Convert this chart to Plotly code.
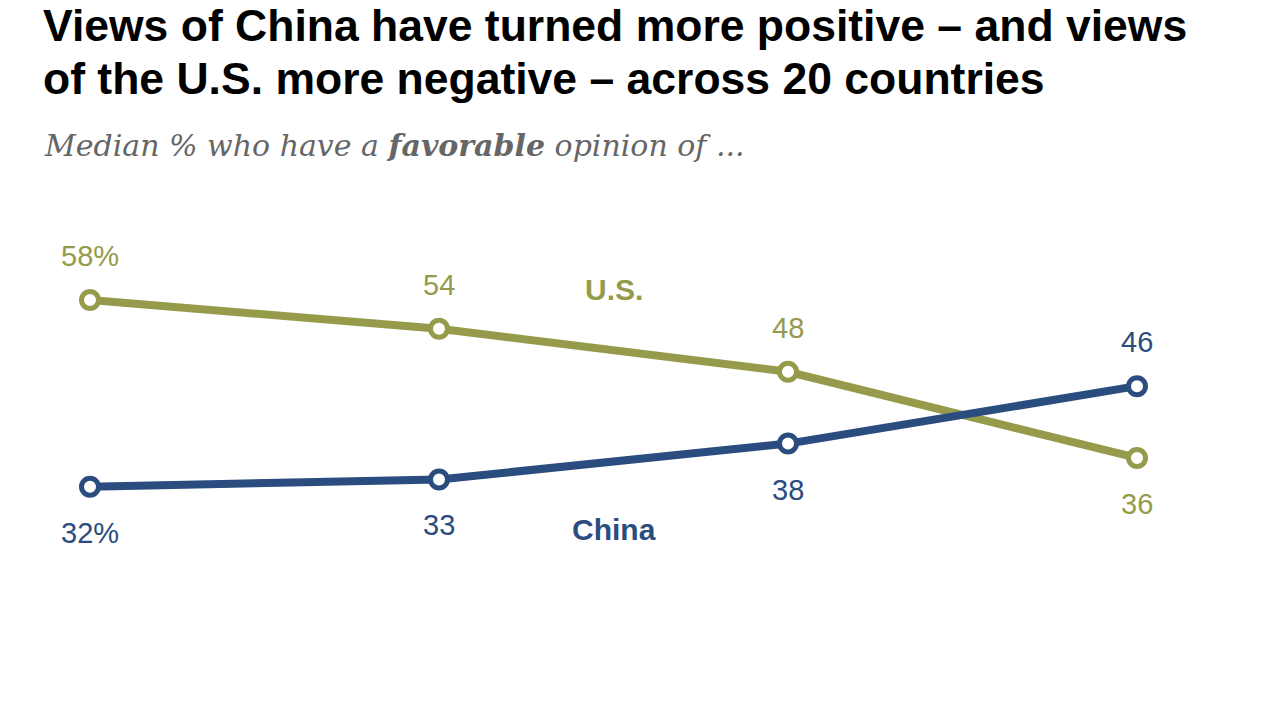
import plotly.graph_objects as go

# survey waves (no axis labels shown in the original)
waves = [0, 1, 2, 3]
us_vals = [58, 54, 48, 36]
china_vals = [32, 33, 38, 46]
us_labels = ['58%', '54', '48', '36']
china_labels = ['32%', '33', '38', '46']

green = '#959b4b'
blue = '#2b4c7e'
sans = 'Liberation Sans, Arial, sans-serif'

fig = go.Figure()
for vals, col in [(us_vals, green), (china_vals, blue)]:
    fig.add_trace(go.Scatter(
        x=waves, y=vals, mode='lines+markers',
        line=dict(color=col, width=8),
        marker=dict(size=17, color='white', line=dict(color=col, width=5)),
        hoverinfo='skip', showlegend=False))

# value labels: above/below depending on which line is on top
for i in range(len(waves)):
    up = us_vals[i] > china_vals[i]
    fig.add_annotation(x=waves[i], y=us_vals[i], text=us_labels[i], showarrow=False,
                       yshift=44 if up else -46, font=dict(family=sans, size=29, color=green))
    fig.add_annotation(x=waves[i], y=china_vals[i], text=china_labels[i], showarrow=False,
                       yshift=-46 if up else 44, font=dict(family=sans, size=29, color=blue))

# series names
fig.add_annotation(x=1.5, y=59.4, text='<b>U.S.</b>', showarrow=False,
                   font=dict(family=sans, size=30, color=green))
fig.add_annotation(x=1.5, y=26, text='<b>China</b>', showarrow=False,
                   font=dict(family=sans, size=30, color=blue))

# title (two lines) and subtitle, placed in paper units above the plot area
title_lines = ['Views of China have turned more positive – and views',
               'of the U.S. more negative – across 20 countries']
for line, ypx in zip(title_lines, [26, 78]):
    fig.add_annotation(xref='paper', yref='paper', x=42 / 1268, y=(650 - ypx) / 450,
                       xanchor='left', yanchor='middle', showarrow=False, borderpad=0,
                       text='<b>' + line + '</b>',
                       font=dict(family=sans, size=44.5, color='black'))

fig.add_annotation(xref='paper', yref='paper', x=42 / 1268, y=(650 - 145) / 450,
                   xanchor='left', yanchor='middle', showarrow=False,
                   text='<i>Median % who have a <b>favorable</b> opinion of ...</i>',
                   font=dict(family='DejaVu Serif, Georgia, serif', size=30, color='#666666'))

fig.update_layout(
    width=1268, height=713,
    margin=dict(l=0, r=0, t=200, b=63),
    paper_bgcolor='white', plot_bgcolor='white',
    xaxis=dict(range=[-90 / 349, 3 + 131 / 349], visible=False),
    yaxis=dict(range=[9.25, 71.93], visible=False),
)

fig.write_html('out.html', config={'displayModeBar': False},
               post_script="document.body.style.margin='0';")
